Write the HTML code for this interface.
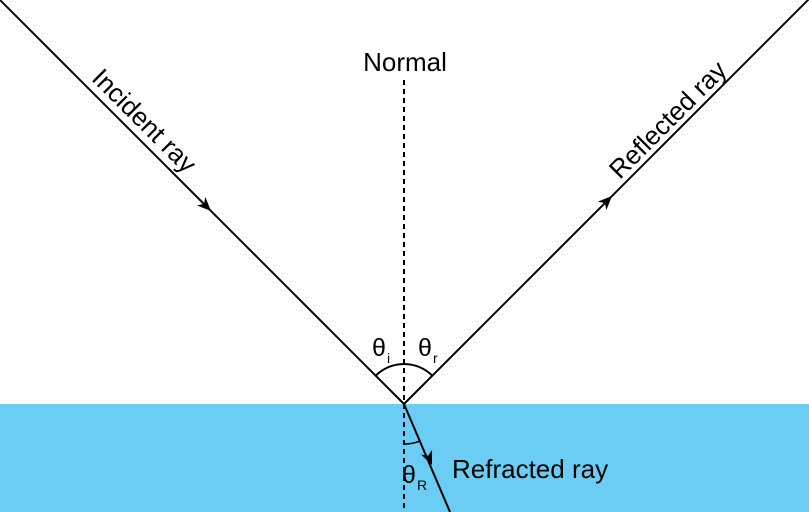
<!DOCTYPE html>
<html><head><meta charset="utf-8"><style>
html,body{margin:0;padding:0;background:#fff;}
svg{display:block;}
text{font-family:"Liberation Sans",sans-serif;fill:#000;}
</style></head><body>
<svg width="809" height="512" viewBox="0 0 809 512" xmlns="http://www.w3.org/2000/svg">
<rect x="0" y="404" width="809" height="108" fill="#6ccdf4"/>
<line x1="404" y1="80" x2="404" y2="512" stroke="#000" stroke-width="2" stroke-dasharray="5,4"/>
<line x1="0" y1="0" x2="404" y2="404" stroke="#000" stroke-width="2"/>
<line x1="404" y1="404" x2="809" y2="-1" stroke="#000" stroke-width="2"/>
<line x1="404" y1="404" x2="450" y2="512" stroke="#000" stroke-width="2"/>
<polygon points="0,0 -14,-6 -10,0 -14,6" fill="#000" transform="translate(211,211) rotate(45)"/>
<polygon points="0,0 -14,-6 -10,0 -14,6" fill="#000" transform="translate(612,196) rotate(-45)"/>
<polygon points="0,0 -14,-6 -10,0 -14,6" fill="#000" transform="translate(432,465) rotate(67)"/>
<path d="M 375.7 375.7 A 40 40 0 0 1 432.3 375.7" fill="none" stroke="#000" stroke-width="2"/>
<path d="M 404 444 A 40 40 0 0 0 420 441" fill="none" stroke="#000" stroke-width="1.5"/>
<text x="405" y="71" font-size="26" text-anchor="middle">Normal</text>
<text font-size="26" text-anchor="middle" transform="translate(138,127) rotate(45)">Incident ray</text>
<text font-size="26" text-anchor="middle" transform="translate(674,126) rotate(-45)">Reflected ray</text>
<text x="452" y="478" font-size="26">Refracted ray</text>
<text x="372" y="356" font-size="25">θ</text><text x="387" y="363" font-size="14">i</text>
<text x="418" y="356" font-size="25">θ</text><text x="433" y="363" font-size="14">r</text>
<text x="402" y="483" font-size="25">θ</text><text x="417" y="490" font-size="14">R</text>
</svg>
</body></html>
